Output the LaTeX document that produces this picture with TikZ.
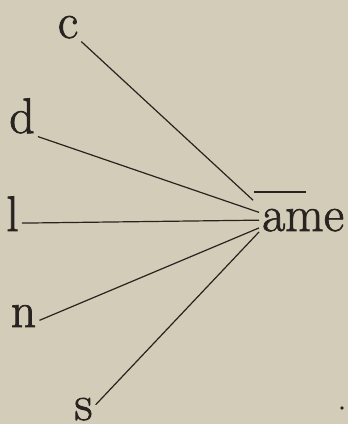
\documentclass[tikz,border=0pt]{standalone}
\usepackage{fontspec}
\newfontfamily\oldbook{Latin Modern Roman}[FakeBold=1.4]
\definecolor{paper}{RGB}{210,204,184}
\definecolor{ink}{RGB}{40,34,32}

\begin{document}
\begin{tikzpicture}[x=1pt, y=-1pt,
  letter/.style={inner sep=3pt, anchor=base, text=ink, font=\oldbook\fontsize{50}{60}\selectfont},
  spoke/.style={draw=ink, line width=1.2pt}]
\fill[paper] (0,0) rectangle (348,424);

\node[letter] (c) at (68,38) {c};
\node[letter] (d) at (22,133) {d};
\node[letter] (l) at (12.5,231) {l};
\node[letter] (n) at (23.5,327) {n};
\node[letter] (s) at (83.5,420) {s};
\node[letter, anchor=base west] (ame) at (259,231) {ame};

% macron over the a
\draw[ink, line width=1.8pt] (254,192) -- (306,192);

\draw[spoke, shorten >=8pt] (c.south east) -- (ame.north west);
\draw[spoke] (d.south east) -- (ame.170);
\draw[spoke] (l.-45) -- (ame.180);
\draw[spoke] (n.-15) -- (ame.190);
\draw[spoke] (s.20) -- (ame.195);

\fill[ink] (342,408) circle (1.8);
\end{tikzpicture}
\end{document}
